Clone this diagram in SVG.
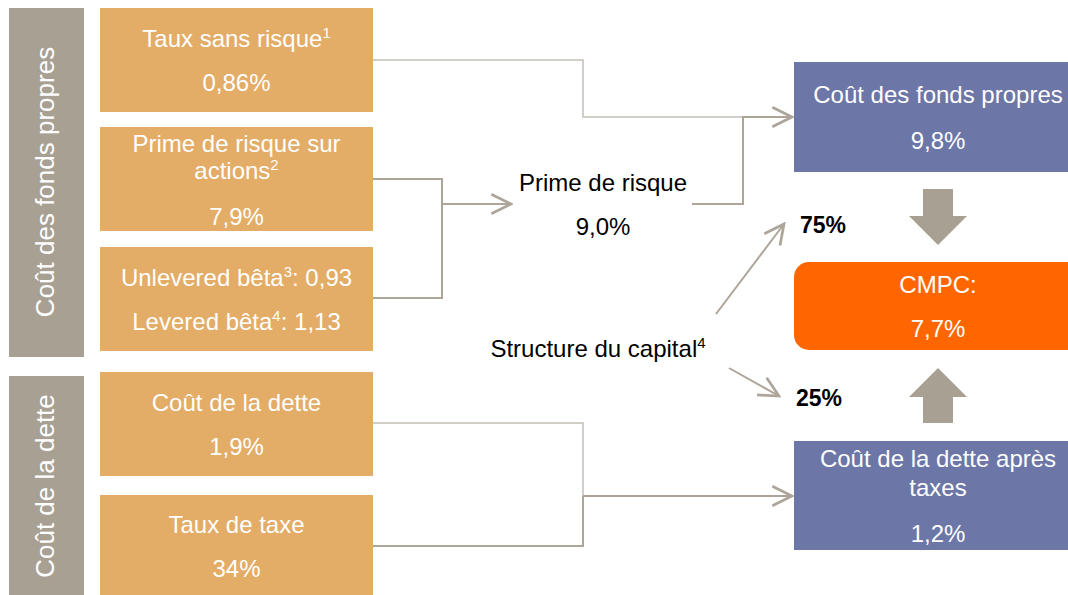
<svg xmlns="http://www.w3.org/2000/svg" width="1068" height="595" viewBox="0 0 1068 595">
<defs>
<style>
.t{font-family:"Liberation Sans",Arial,sans-serif;font-size:24px;fill:#ffffff;text-anchor:middle}
.v{font-family:"Liberation Sans",Arial,sans-serif;font-size:26px;fill:#ffffff;text-anchor:middle}
.k{font-family:"Liberation Sans",Arial,sans-serif;font-size:24px;fill:#000000;text-anchor:middle}
.b{font-family:"Liberation Sans",Arial,sans-serif;font-size:23px;font-weight:bold;fill:#000000}
.sup{font-size:15px}
.org{fill:#E3AC67}
.gry{fill:#A9A094}
.pur{fill:#6C76A7}
.ln{fill:none;stroke:#ADA599;stroke-width:2}
.thin{fill:none;stroke:#C4BEB6;stroke-width:1.5}
</style>
<marker id="ah" markerUnits="userSpaceOnUse" markerWidth="24" markerHeight="24" viewBox="-20 -11 22 22" refX="0" refY="0" orient="auto">
<path d="M-18,-9 L0,0 L-18,9" fill="none" stroke="#ADA599" stroke-width="2.5"/>
</marker>
</defs>
<rect width="1068" height="595" fill="#ffffff"/>

<g id="grp-equity">
<rect class="gry" x="9" y="8" width="75" height="349"/>
<text class="v" transform="translate(54,182) rotate(-90)">Coût des fonds propres</text>
</g>
<g id="grp-debt">
<rect class="gry" x="9" y="376" width="75" height="219"/>
<text class="v" transform="translate(54,486) rotate(-90)">Coût de la dette</text>
</g>

<g id="n-riskfree">
<rect class="org" x="100" y="8" width="273" height="104"/>
<text class="t" x="236.5" y="47">Taux sans risque<tspan class="sup" dy="-9">1</tspan></text>
<text class="t" x="236.5" y="91">0,86%</text>
</g>
<g id="n-erp">
<rect class="org" x="100" y="127" width="273" height="104"/>
<text class="t" x="236.5" y="152">Prime de risque sur</text>
<text class="t" x="236.5" y="179">actions<tspan class="sup" dy="-9">2</tspan></text>
<text class="t" x="236.5" y="225">7,9%</text>
</g>
<g id="n-beta">
<rect class="org" x="100" y="247" width="273" height="104"/>
<text class="t" x="236.5" y="286">Unlevered bêta<tspan class="sup" dy="-9">3</tspan><tspan dy="9">: 0,93</tspan></text>
<text class="t" x="236.5" y="330">Levered bêta<tspan class="sup" dy="-9">4</tspan><tspan dy="9">: 1,13</tspan></text>
</g>
<g id="n-costdebt">
<rect class="org" x="100" y="372" width="273" height="104"/>
<text class="t" x="236.5" y="411">Coût de la dette</text>
<text class="t" x="236.5" y="455">1,9%</text>
</g>
<g id="n-tax">
<rect class="org" x="100" y="495" width="273" height="100"/>
<text class="t" x="236.5" y="533">Taux de taxe</text>
<text class="t" x="236.5" y="577">34%</text>
</g>

<g id="n-riskprem">
<text class="k" x="603" y="191">Prime de risque</text>
<text class="k" x="603" y="235">9,0%</text>
</g>
<g id="n-capstruct">
<text class="k" x="598" y="357">Structure du capital<tspan class="sup" dy="-9">4</tspan></text>
</g>

<g id="n-coe">
<rect class="pur" x="794" y="62" width="274" height="110"/>
<text class="t" x="938" y="103">Coût des fonds propres</text>
<text class="t" x="938" y="149">9,8%</text>
</g>
<g id="n-wacc">
<rect x="794" y="262" width="300" height="88" rx="15" ry="15" fill="#FF6600"/>
<text class="t" x="938" y="293">CMPC:</text>
<text class="t" x="938" y="337">7,7%</text>
</g>
<g id="n-cod">
<rect class="pur" x="794" y="441" width="274" height="109"/>
<text class="t" x="938" y="467">Coût de la dette après</text>
<text class="t" x="938" y="496">taxes</text>
<text class="t" x="938" y="542">1,2%</text>
</g>

<g id="labels">
<text class="b" x="800" y="233">75%</text>
<text class="b" x="796" y="406">25%</text>
</g>

<g id="connectors">
<polyline class="thin" points="373,60 583,60 583,117 743,117"/>
<polyline class="ln" points="373,179 442,179 442,298 373,298"/>
<line class="ln" x1="442" y1="204" x2="511" y2="204" marker-end="url(#ah)"/>
<polyline class="ln" points="692,204 743,204 743,117 792,117" marker-end="url(#ah)"/>
<line class="ln" x1="716" y1="314" x2="784" y2="224" marker-end="url(#ah)"/>
<line class="ln" x1="729" y1="368" x2="779" y2="396" marker-end="url(#ah)"/>
<polyline class="thin" points="373,423 583,423 583,496"/>
<polyline class="ln" points="373,546 583,546 583,496"/>
<line class="ln" x1="583" y1="496" x2="792" y2="496" marker-end="url(#ah)"/>
<polygon class="gry" points="923,189 953,189 953,216 967,216 938,245 909,216 923,216"/>
<polygon class="gry" points="938,368 967,397 953,397 953,423 923,423 923,397 909,397"/>
</g>
</svg>
